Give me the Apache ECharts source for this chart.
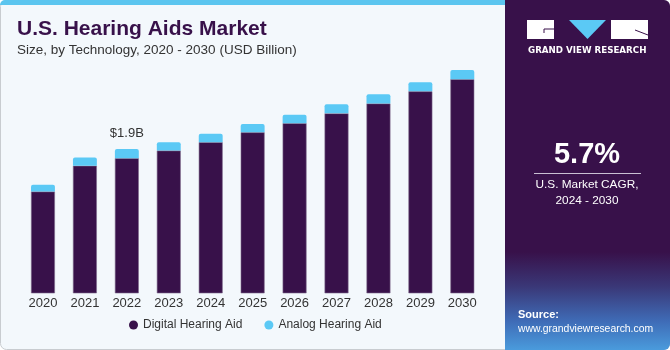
<!DOCTYPE html>
<html>
<head>
<meta charset="utf-8">
<script src="https://cdn.jsdelivr.net/npm/echarts@6/dist/echarts.min.js"></script>
<style>
  html, body { margin: 0; padding: 0; background: #fff; }
  #main { width: 670px; height: 350px; }
</style>
</head>
<body>
<div id="main"></div>
<script>
var myChart = echarts.init(document.getElementById('main'));

// 年份
var years = ['2020', '2021', '2022', '2023', '2024', '2025', '2026', '2027', '2028', '2029', '2030'];

// 数字助听器 (USD Billion)
var digital = [1.34, 1.68, 1.78, 1.88, 1.99, 2.12, 2.24, 2.37, 2.50, 2.66, 2.82];

// 模拟助听器 (USD Billion)
var analog = [0.09, 0.11, 0.12, 0.11, 0.11, 0.11, 0.11, 0.12, 0.12, 0.12, 0.12];

// 标注
var labels = ['', '', '$1.9B', '', '', '', '', '', '', '', ''];

var purple = '#38114a';
var blue = '#5bc9f5';

var option = {
  backgroundColor: '#ffffff',
  animation: false,
  textStyle: { fontFamily: 'Liberation Sans' },
  grid: {
    left: 22,
    right: 186.7,
    top: 65.5,
    bottom: 56.7
  },
  legend: {
    bottom: 14,
    left: 124,
    icon: 'circle',
    itemWidth: 9,
    itemHeight: 9,
    itemGap: 22,
    itemStyle: { borderWidth: 0 },
    textStyle: { color: '#333', fontSize: 12, fontFamily: 'Liberation Sans' },
    data: ['Digital Hearing Aid', 'Analog Hearing Aid']
  },
  xAxis: {
    type: 'category',
    data: years,
    axisLine: { show: false },
    axisTick: { show: false },
    axisLabel: { color: '#333', fontSize: 13, margin: 4 }
  },
  yAxis: {
    type: 'value',
    min: 0,
    max: 3,
    show: false,
    splitLine: { show: false }
  },
  graphic: [
    // 外框
    {
      type: 'rect', z: -10,
      shape: { x: 0.5, y: 0.5, width: 669, height: 349, r: 6 },
      style: { fill: '#f3f8fc', stroke: '#c8ccd0', lineWidth: 1 }
    },
    // 顶部蓝条
    {
      type: 'rect', z: -9,
      shape: { x: 0, y: 0, width: 506, height: 5, r: [5, 0, 0, 0] },
      style: { fill: '#5bc5ef' }
    },
    // 右侧面板
    {
      type: 'rect', z: -8,
      shape: { x: 505, y: 0, width: 165, height: 350, r: [0, 6, 6, 0] },
      style: {
        fill: new echarts.graphic.LinearGradient(0, 0, 0, 1, [
          { offset: 0, color: '#38114a' },
          { offset: 0.72, color: '#38114a' },
          { offset: 0.82, color: '#3a3878' },
          { offset: 0.92, color: '#3f6db8' },
          { offset: 1, color: '#4a9bdc' }
        ])
      }
    },
    // logo
    { type: 'rect', shape: { x: 527, y: 20, width: 27, height: 19 }, style: { fill: '#fff' } },
    { type: 'polyline', shape: { points: [[554, 29], [544, 29], [544, 33]] }, style: { stroke: '#38114a', lineWidth: 1, fill: null } },
    { type: 'polygon', shape: { points: [[569, 20], [606, 20], [587.5, 39]] }, style: { fill: blue } },
    { type: 'rect', shape: { x: 611, y: 20, width: 37, height: 19 }, style: { fill: '#fff' } },
    { type: 'line', shape: { x1: 635, y1: 30, x2: 648, y2: 35 }, style: { stroke: '#38114a', lineWidth: 1 } },
    {
      type: 'text', left: 528, top: 46,
      style: { text: 'GRAND VIEW RESEARCH', fill: '#fff', font: 'bold 8.7px "DejaVu Sans"' }
    },
    // CAGR
    {
      type: 'text', x: 587, y: 155,
      style: { text: '5.7%', fill: '#fff', font: 'bold 29px "Liberation Sans"', align: 'center', verticalAlign: 'middle' }
    },
    {
      type: 'line', shape: { x1: 534, y1: 173.5, x2: 641, y2: 173.5 },
      style: { stroke: '#c9bfd3', lineWidth: 1 }
    },
    {
      type: 'text', x: 587, y: 185,
      style: { text: 'U.S. Market CAGR,', fill: '#fff', font: '11.8px "Liberation Sans"', align: 'center', verticalAlign: 'middle' }
    },
    {
      type: 'text', x: 587, y: 201,
      style: { text: '2024 - 2030', fill: '#fff', font: '11.8px "Liberation Sans"', align: 'center', verticalAlign: 'middle' }
    },
    // 来源
    {
      type: 'text', x: 518, y: 315,
      style: { text: 'Source:', fill: '#fff', font: 'bold 11px "Liberation Sans"', verticalAlign: 'middle' }
    },
    {
      type: 'text', x: 518, y: 329,
      style: { text: 'www.grandviewresearch.com', fill: '#fff', font: '10.4px "Liberation Sans"', verticalAlign: 'middle' }
    },
    // 标题
    {
      type: 'text', x: 17, y: 29,
      style: { text: 'U.S. Hearing Aids Market', fill: '#38114a', font: 'bold 21px "Liberation Sans"', verticalAlign: 'middle' }
    },
    {
      type: 'text', x: 17, y: 50,
      style: { text: 'Size, by Technology, 2020 - 2030 (USD Billion)', fill: '#333', font: '13.5px "Liberation Sans"', verticalAlign: 'middle' }
    }
  ],
  series: [
    {
      name: 'Digital Hearing Aid',
      type: 'bar',
      stack: 'total',
      barCategoryGap: '43%',
      itemStyle: { color: purple, borderColor: '#7d6a8c', borderWidth: 0.6 },
      data: digital
    },
    {
      name: 'Analog Hearing Aid',
      type: 'bar',
      stack: 'total',
      barCategoryGap: '43%',
      itemStyle: { color: blue, borderRadius: [2, 2, 0, 0] },
      label: {
        show: true,
        position: 'top',
        distance: 9,
        color: '#333',
        fontSize: 13,
        formatter: function (p) { return labels[p.dataIndex]; }
      },
      data: analog
    }
  ]
};

myChart.setOption(option);
</script>
</body>
</html>
